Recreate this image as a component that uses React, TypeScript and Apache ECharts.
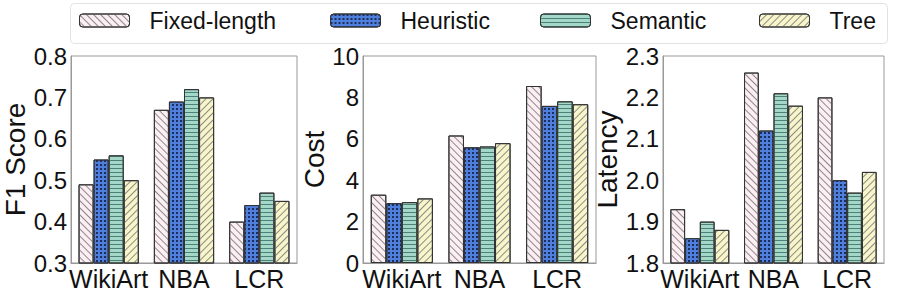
import React, { useEffect, useRef } from "react";
import * as echarts from "echarts";

const categories = ["WikiArt", "NBA", "LCR"];
const seriesNames = ["Fixed-length", "Heuristic", "Semantic", "Tree"];

const f1Fixed = [0.49, 0.67, 0.40];
const f1Heuristic = [0.55, 0.69, 0.44];
const f1Semantic = [0.56, 0.72, 0.47];
const f1Tree = [0.50, 0.70, 0.45];

const costFixed = [3.3, 6.16, 8.55];
const costHeuristic = [2.89, 5.59, 7.59];
const costSemantic = [2.94, 5.63, 7.81];
const costTree = [3.12, 5.79, 7.67];

const latFixed = [1.93, 2.26, 2.20];
const latHeuristic = [1.86, 2.12, 2.00];
const latSemantic = [1.90, 2.21, 1.97];
const latTree = [1.88, 2.18, 2.02];

const FONT = "'Liberation Sans', Arial, sans-serif";

const styles = [
  {
    color: "#fdeef3",
    decal: { symbol: "rect", symbolSize: 1, color: "#8a8a8a", dashArrayX: [1, 0], dashArrayY: [1, 4], rotation: Math.PI / 4 },
  },
  {
    color: "#4f7fdc",
    decal: { symbol: "rect", symbolSize: 1, color: "#1e2d5c", dashArrayX: [2, 2], dashArrayY: [2, 2], rotation: 0 },
  },
  {
    color: "#a3d8c8",
    decal: { symbol: "rect", symbolSize: 1, color: "#4f8078", dashArrayX: [1, 0], dashArrayY: [1, 3], rotation: 0 },
  },
  {
    color: "#f8f6c9",
    decal: { symbol: "rect", symbolSize: 1, color: "#8a8a8a", dashArrayX: [1, 0], dashArrayY: [1, 4], rotation: -Math.PI / 4 },
  },
];

export default function App() {
  const ref = useRef<HTMLDivElement>(null);
  useEffect(() => {
    if (!ref.current) return;
    const chart = echarts.init(ref.current, undefined, { renderer: "svg" });
    const grids = [
      { left: 66, top: 56, width: 231, height: 207 },
      { left: 363, top: 56, width: 233, height: 207 },
      { left: 663, top: 56, width: 221, height: 207 },
    ].map((g) => ({ ...g, show: true, borderColor: "#999", borderWidth: 1, backgroundColor: "transparent" }));

    const yDefs = [
      { name: "F1 Score", min: 0.3, max: 0.8, interval: 0.1, dec: 1, gap: 42 },
      { name: "Cost", min: 0, max: 10, interval: 2, dec: 0, gap: 34 },
      { name: "Latency", min: 1.8, max: 2.3, interval: 0.1, dec: 1, gap: 42 },
    ];
    const data = [
      [f1Fixed, f1Heuristic, f1Semantic, f1Tree],
      [costFixed, costHeuristic, costSemantic, costTree],
      [latFixed, latHeuristic, latSemantic, latTree],
    ];

    const series: any[] = [];
    data.forEach((group, gi) => {
      group.forEach((vals, si) => {
        series.push({
          type: "bar",
          name: seriesNames[si],
          xAxisIndex: gi,
          yAxisIndex: gi,
          data: vals,
          barGap: "0%",
          barCategoryGap: "20%",
          itemStyle: { color: styles[si].color, decal: styles[si].decal, borderColor: "#333", borderWidth: 1 },
        });
      });
    });

    const legendLefts = [79, 330, 540, 759];
    chart.setOption({
      animation: false,
      aria: { enabled: false, decal: { show: false } },
      graphic: [
        {
          type: "rect",
          shape: { x: 70.5, y: 3.5, width: 817, height: 40, r: 4 },
          style: { fill: "#fff", stroke: "#e2e2e2", lineWidth: 1 },
          z: -1,
        },
      ],
      legend: seriesNames.map((n, i) => ({
        data: [n],
        left: legendLefts[i],
        top: 9,
        padding: 0,
        itemWidth: 50,
        itemHeight: 13,
        itemStyle: { borderColor: "#333", borderWidth: 1 },
        textStyle: { fontSize: 23, fontFamily: FONT, color: "#111", padding: [0, 0, 0, 15] },
      })),
      grid: grids,
      xAxis: grids.map((_, i) => ({
        type: "category",
        gridIndex: i,
        data: categories,
        axisLine: { show: true, lineStyle: { color: "#999" } },
        axisTick: { show: false },
        axisLabel: { fontSize: 25, fontFamily: FONT, color: "#111", margin: 3, interval: 0 },
      })),
      yAxis: yDefs.map((d, i) => ({
        type: "value",
        gridIndex: i,
        min: d.min,
        max: d.max,
        interval: d.interval,
        name: d.name,
        nameLocation: "middle",
        nameRotate: 90,
        nameGap: d.gap,
        nameTextStyle: { fontSize: 28, fontFamily: FONT, color: "#111" },
        axisLine: { show: true, lineStyle: { color: "#999" } },
        axisTick: { show: false },
        splitLine: { show: false },
        axisLabel: {
          fontSize: 24,
          fontFamily: FONT,
          color: "#111",
          margin: 4,
          formatter: (v: number) => v.toFixed(d.dec),
        },
      })),
      series,
    });
    return () => chart.dispose();
  }, []);
  return (
    <div
      ref={ref}
      style={{ position: "fixed", left: 0, top: 0, width: 897, height: 293, background: "#fff" }}
    />
  );
}
